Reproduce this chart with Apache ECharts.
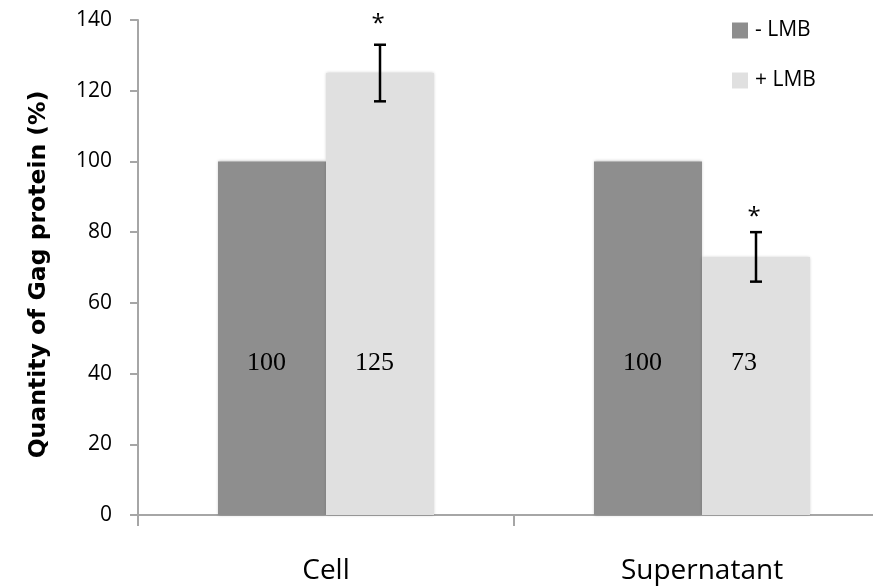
<!DOCTYPE html>
<html>
<head>
<meta charset="utf-8">
<script src="https://cdn.jsdelivr.net/npm/echarts@6/dist/echarts.min.js"></script>
<style>
  html, body { margin: 0; padding: 0; background: #fff; }
  #chart { width: 873px; height: 587px; }
</style>
</head>
<body>
<div id="chart"></div>
<script>
// data
var categories = ['Cell', 'Supernatant'];
var minusLMB = [100, 100];
var plusLMB = [125, 73];
var plusErr = [8, 7];
var starAt = [140, 85.5]; // where the * sits

var gapPct = 0.4255;

var chart = echarts.init(document.getElementById('chart'));

var barLabel = {
  show: true,
  position: 'insideBottom',
  distance: 139,
  align: 'left',
  offset: [-25, 0],
  fontFamily: 'Liberation Serif',
  fontSize: 26,
  color: '#000'
};

var option = {
  animation: false,
  backgroundColor: '#fff',
  textStyle: { fontFamily: 'Open Sans' },
  grid: { left: 138, width: 752, top: 20, bottom: 72, outerBoundsMode: 'none', containLabel: false },
  legend: {
    orient: 'vertical',
    left: 732,
    top: 20,
    padding: 0,
    itemWidth: 16,
    itemHeight: 16,
    itemGap: 29,
    icon: 'rect',
    textStyle: { fontSize: 21, color: '#000', fontFamily: 'Open Sans', lineHeight: 21, padding: [0, 0, 0, 2] },
    data: ['- LMB', '+ LMB']
  },
  xAxis: {
    type: 'category',
    data: categories,
    axisLine: { lineStyle: { color: '#a6a6a6', width: 2 } },
    axisTick: { show: true, length: 11, lineStyle: { color: '#a6a6a6', width: 2 } },
    axisLabel: { fontSize: 28, color: '#000', margin: 42, fontFamily: 'Open Sans' }
  },
  yAxis: {
    type: 'value',
    min: 0,
    max: 140,
    interval: 20,
    name: 'Quantity of Gag protein (%)',
    nameLocation: 'middle',
    nameGap: 87,
    nameTextStyle: { fontSize: 23.5, fontWeight: 'bold', color: '#000', fontFamily: 'DejaVu Sans', padding: [0, 14, 0, 0] },
    splitLine: { show: false },
    axisLine: { show: true, lineStyle: { color: '#a6a6a6', width: 2 } },
    axisTick: { show: true, length: 8, lineStyle: { color: '#a6a6a6', width: 2 } },
    axisLabel: { fontSize: 21, color: '#000', margin: 26, fontFamily: 'Open Sans' }
  },
  series: [
    {
      name: '- LMB',
      type: 'bar',
      data: minusLMB,
      barGap: '0%',
      barCategoryGap: (gapPct * 100) + '%',
      itemStyle: { color: '#8e8e8e', shadowBlur: 3, shadowColor: 'rgba(0,0,0,0.25)' },
      label: barLabel
    },
    {
      name: '+ LMB',
      type: 'bar',
      data: plusLMB,
      itemStyle: { color: '#e0e0e0', shadowBlur: 3, shadowColor: 'rgba(0,0,0,0.25)' },
      label: barLabel
    },
    {
      // error bars + stars on the +LMB bars
      type: 'custom',
      silent: true,
      z: 10,
      data: plusLMB.map(function (v, i) { return [i, v, plusErr[i], starAt[i]]; }),
      renderItem: function (params, api) {
        var i = api.value(0);
        var catW = api.size([1, 0])[0];
        var off = catW * (1 - gapPct) / 4;
        var top = api.coord([i, api.value(1) + api.value(2)]);
        var bot = api.coord([i, api.value(1) - api.value(2)]);
        var star = api.coord([i, api.value(3)]);
        var x = top[0] + off;
        var style = { stroke: '#000', lineWidth: 2.5 };
        return {
          type: 'group',
          children: [
            { type: 'line', shape: { x1: x, y1: top[1], x2: x, y2: bot[1] }, style: style },
            { type: 'line', shape: { x1: x - 6, y1: top[1], x2: x + 6, y2: top[1] }, style: style },
            { type: 'line', shape: { x1: x - 6, y1: bot[1], x2: x + 6, y2: bot[1] }, style: style },
            {
              type: 'text',
              style: {
                text: '*', x: x - 2, y: star[1] + 4,
                fill: '#000', font: '24px "Open Sans"',
                align: 'center', verticalAlign: 'middle'
              }
            }
          ]
        };
      }
    }
  ]
};

chart.setOption(option);
</script>
</body>
</html>
